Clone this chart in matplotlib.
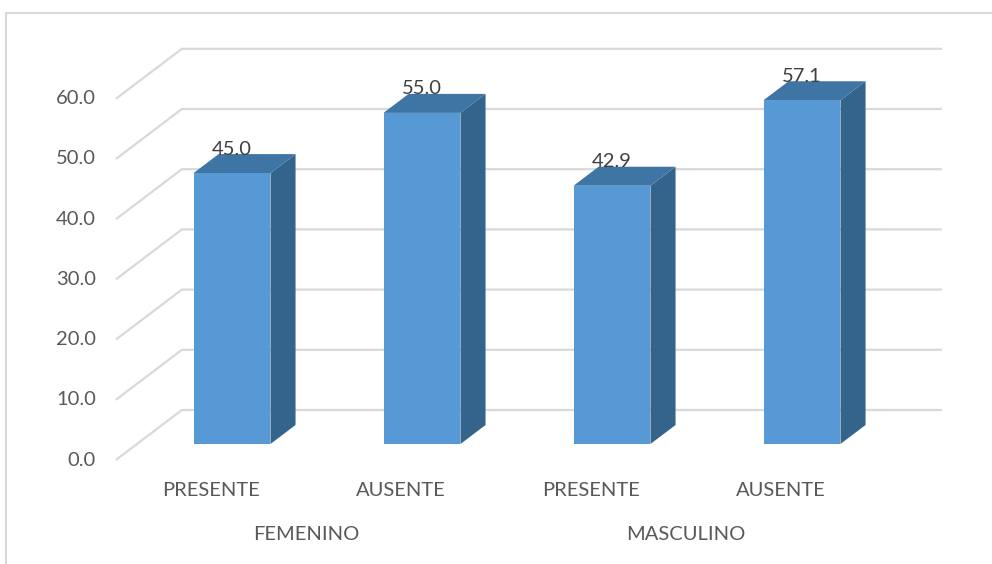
import matplotlib
matplotlib.use("Agg")
import matplotlib.pyplot as plt
from matplotlib.patches import Polygon, Rectangle

# Survey results (%) by sex and presence of the condition
categories = ["PRESENTE", "AUSENTE", "PRESENTE", "AUSENTE"]
groups = ["FEMENINO", "MASCULINO"]
values = [45.0, 55.0, 42.9, 57.1]
yticks = [0, 10, 20, 30, 40, 50, 60]

W, H, DPI = 992, 564, 100
PX_X = 190.0          # pixels per category step
PX_Y = 6.02           # pixels per value unit
X0_PX, Y0_PX = 232.0, 444.0   # pixel position of category 0, value 0 (bar front plane)

FRONT_C = "#5799D4"
TOP_C = "#3E75A5"
SIDE_C = "#34648C"
GRID_C = "#D9D9D9"
TXT_C = "#595959"

plt.rcParams["font.family"] = ["Lato", "DejaVu Sans"]
FS = 14.5

fig = plt.figure(figsize=(W / DPI, H / DPI), dpi=DPI)
ax = fig.add_axes([0, 0, 1, 1])
ax.set_xlim(-X0_PX / PX_X, (W - X0_PX) / PX_X)
ax.set_ylim(-(H - Y0_PX) / PX_Y, Y0_PX / PX_Y)
ax.axis("off")


def depth(t):
    """Oblique offset (in data units) for a depth of t pixels into the scene."""
    return 1.32 * t / PX_X, t / PX_Y


T_FLOOR, T_BACK = -16.0, 34.0     # front edge of floor, back wall
T_BAR0, T_BAR1 = 0.0, 19.0        # bar front / back
X_LEFT, X_RIGHT = -0.5, 3.5
BAR_W = 0.405

# gridlines: diagonal along the side wall, then across the back wall
fdx, fdy = depth(T_FLOOR)
bdx, bdy = depth(T_BACK)
for v in yticks:
    xs = [X_LEFT + fdx, X_LEFT + bdx, X_RIGHT + bdx]
    ys = [v + fdy, v + bdy, v + bdy]
    ax.plot(xs, ys, color=GRID_C, lw=1.6, zorder=1, solid_capstyle="butt")
    ax.text(X_LEFT + fdx - 20 / PX_X, v + fdy, f"{v:.1f}", ha="right",
            va="center", fontsize=FS, color=TXT_C)

# 3D bars
b0x, b0y = depth(T_BAR0)
b1x, b1y = depth(T_BAR1)
for i, v in enumerate(values):
    xl, xr = i - BAR_W / 2, i + BAR_W / 2
    side = [(xr, 0), (xr + b1x, b1y), (xr + b1x, v + b1y), (xr, v)]
    top = [(xl, v), (xl + b1x, v + b1y), (xr + b1x, v + b1y), (xr, v)]
    front = [(xl, 0), (xr, 0), (xr, v), (xl, v)]
    ax.add_patch(Polygon(side, closed=True, fc=SIDE_C, ec="none", zorder=3))
    ax.add_patch(Polygon(top, closed=True, fc=TOP_C, ec="none", zorder=3))
    ax.add_patch(Polygon(front, closed=True, fc=FRONT_C, ec="none", zorder=4))
    ax.text(i, v + 4.0, f"{v:.1f}", ha="center", va="center",
            fontsize=FS, color="#404040", zorder=6)
    ax.text(i + fdx, -47 / PX_Y, categories[i], ha="center", va="center",
            fontsize=FS, color=TXT_C)

# group labels beneath each pair of categories
for g, name in enumerate(groups):
    ax.text(2 * g + 0.5 + fdx, -91 / PX_Y, name, ha="center", va="center",
            fontsize=FS, color=TXT_C)

# chart-area frame
fig.patches.append(Rectangle((6 / W, -0.1), 1.2, (H - 13) / H + 0.1,
                             transform=fig.transFigure, fill=False,
                             ec=GRID_C, lw=1.5, zorder=0))

fig.savefig("out.png", dpi=DPI, facecolor="white")
